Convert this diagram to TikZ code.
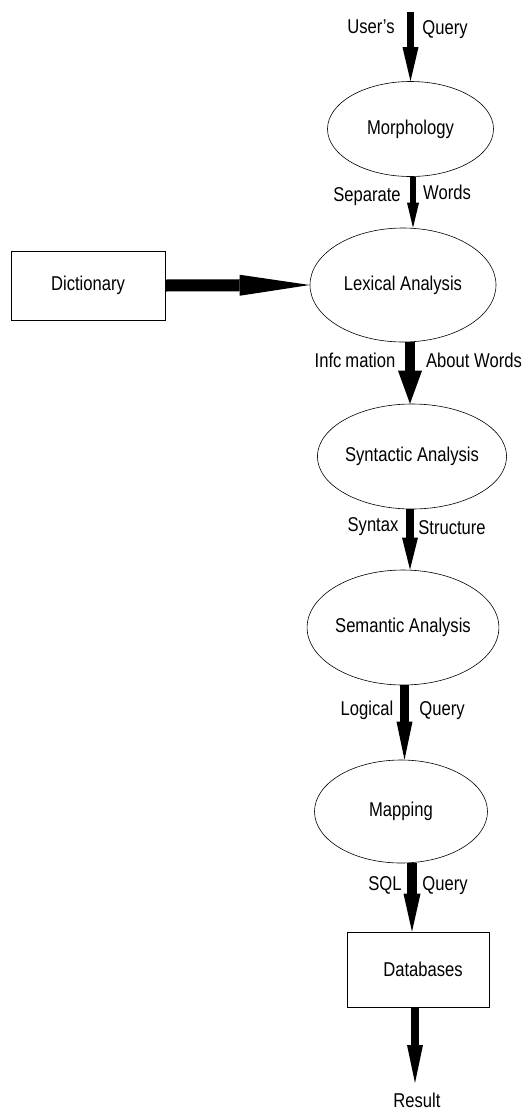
\documentclass[tikz,border=0pt]{standalone}
\usepackage{fontspec}
\setmainfont{Liberation Sans}[FakeStretch=0.83]
\usetikzlibrary{shapes.geometric,arrows.meta}
\begin{document}
\begin{tikzpicture}[x=1pt,y=-1pt,
  every node/.style={font=\fontsize{20}{22}\selectfont},
  ell/.style={draw, ellipse, inner sep=0pt, line width=0.6pt},
  box/.style={draw, rectangle, inner sep=0pt, line width=0.6pt},
  lbl/.style={anchor=base, inner sep=0pt},
  flow/.style args={#1/#2/#3}{line width=#1,
     -{Triangle[length=#2,width=#3,line width=0pt]}}
]
\useasboundingbox (0,0) rectangle (530,1112);

% nodes
\node[ell, minimum width=166pt, minimum height=95pt] (morph) at (410.5,129) {Morphology};
\node[ell, minimum width=186pt, minimum height=114pt] (lex) at (403,285) {Lexical Analysis};
\node[box, minimum width=154pt, minimum height=69pt] (dict) at (88,285.5) {Dictionary};
\node[ell, minimum width=170pt, minimum height=105pt] (syn) at (412,456.5) {Syntactic Analysis};
\node[ell, minimum width=160pt, minimum height=115pt] (sem) at (403,627.5) {Semantic Analysis};
\node[ell, minimum width=173pt, minimum height=103pt] (map) at (401,811.5) {Mapping};
\node[box, minimum width=142pt, minimum height=75pt, text width=130pt, align=center] (db) at (418,969.5) {\hspace*{10pt}Databases};
\node[lbl] (res) at (417,1107) {Result};

\coordinate (qin) at (410.5,12);
\coordinate (rtip) at (415,1083);

% connectors
\draw[flow=7pt/34pt/16pt] (qin) -- (morph.north);
\draw[flow=6pt/25pt/12pt] ([xshift=2.5pt]morph.south) -- ([xshift=2.5pt]morph.south |- lex.north);
\draw[flow=12pt/70pt/21pt] (dict.east) -- (lex.west);
\draw[flow=10pt/33pt/24pt] ([xshift=7pt]lex.south) -- ([xshift=7pt]lex.south |- syn.north);
\draw[flow=8pt/32pt/16pt] ([xshift=-2pt]syn.south) -- ([xshift=-2pt]syn.south |- sem.north);
\draw[flow=9pt/38pt/16pt] ([xshift=1.5pt]sem.south) -- ([xshift=1.5pt]sem.south |- map.north);
\draw[flow=10pt/38pt/17pt] ([xshift=11pt]map.south) -- ([xshift=11pt]map.south |- db.north);
\draw[flow=8pt/38pt/16pt] ([xshift=-3pt]db.south) -- (rtip);

% labels
\node[lbl] (l1a) at (371,33) {User's};
\node[lbl] (l1b) at (445,34) {Query};
\node[lbl] (l2a) at (367,201) {Separate};
\node[lbl] (l2b) at (447,199) {Words};
\node[lbl] (l3a) at (355,367) {Infc\hspace{4pt}mation};
\node[lbl] (l3b) at (474,367) {About Words};
\node[lbl] (l4a) at (373,531) {Syntax};
\node[lbl] (l4b) at (452,534) {Structure};
\node[lbl] (l5a) at (367,715) {Logical};
\node[lbl] (l5b) at (442,715) {Query};
\node[lbl] (l6a) at (385,890) {SQL};
\node[lbl] (l6b) at (445,890) {Query};
\end{tikzpicture}
\end{document}
